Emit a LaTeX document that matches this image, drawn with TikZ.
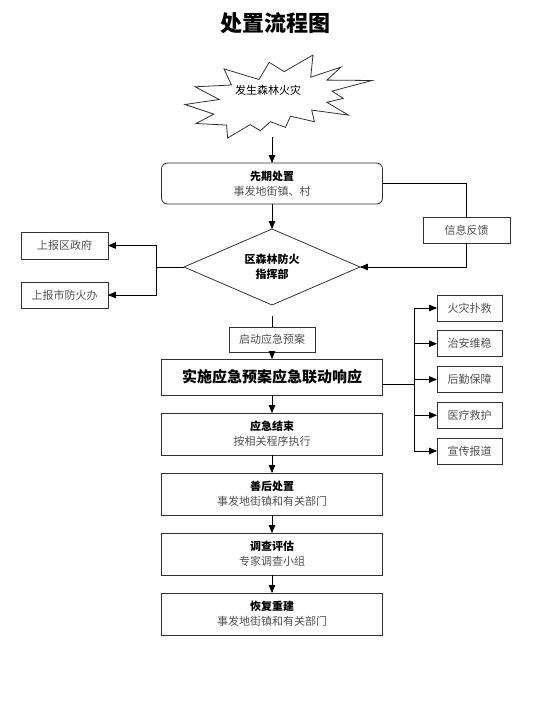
\documentclass[tikz,border=0pt]{standalone}
\usepackage{fontspec}
\setmainfont{Noto Sans CJK SC}
\usetikzlibrary{shapes,arrows,positioning}
\definecolor{linegray}{HTML}{333333}
\definecolor{txtgray}{HTML}{505050}
\newcommand{\boxhead}[1]{\textcolor{black}{\textbf{#1}}}

\begin{document}
\begin{tikzpicture}[%
    x=1pt, y=1pt,               % one unit per pixel of the page
    >=triangle 45,              % small filled tips
    node distance=18pt,         % gap between the stage boxes
    every node/.style={inner sep=0pt, outer sep=0pt},
    ]
% -------------------------------------------------
% Box styles
\tikzset{
  base/.style={draw=linegray, line width=0.8pt, align=center, text=txtgray,
    font=\fontsize{11}{15}\selectfont},
  stage/.style={base, minimum width=221pt, minimum height=42pt},
  side/.style={base, minimum width=87pt, minimum height=26pt},
  task/.style={base, minimum width=65pt, minimum height=26pt},
  cmd/.style={base, diamond, aspect=2.3, minimum width=176pt, minimum height=76pt},
  burst/.style={draw=linegray, line width=0.8pt},
  % Connector line styles
  norm/.style={->, draw=black, line width=0.8pt},
  plain/.style={draw=black, line width=0.8pt}
}
\useasboundingbox (0,0) rectangle (550,-709);
% -------------------------------------------------
% Start by placing the nodes

\node[font=\fontsize{22}{24}\selectfont\bfseries] (title) at (275,-23) {处置流程图};

\node[font=\fontsize{11}{15}\selectfont] (fire) at (268,-90) {发生森林火灾};
% explosion outline round the first node
\draw[burst] (284.2,-71.7) -- (313.0,-55.0) -- (310.7,-77.2) -- (340.9,-67.2)
  -- (326.8,-80.1) -- (372.0,-80.5) -- (332.0,-91.1) -- (343.2,-98.4)
  -- (326.8,-102.3) -- (348.4,-115.1) -- (311.7,-110.1) -- (314.4,-121.7)
  -- (290.4,-116.2) -- (285.5,-127.4) -- (270.5,-121.7) -- (260.3,-130.7)
  -- (250.2,-124.6) -- (227.6,-138.0) -- (226.6,-125.1) -- (196.1,-123.5)
  -- (213.8,-114.1) -- (185.0,-104.5) -- (219.1,-99.5) -- (195.1,-86.8)
  -- (231.5,-85.0) -- (224.0,-68.9) -- (259.0,-79.5) -- (269.2,-62.3) -- cycle;
\coordinate (firetip) at (272,-137);

\node[stage, rounded corners=6pt, minimum height=41pt] (early) at (272,-183.5)
  {\boxhead{先期处置}\\事发地街镇、村};
\node[cmd, below=25pt of early] (hq) {\boxhead{区森林防火}\\\boxhead{指挥部}};
\coordinate[below=11pt of hq] (hqgap);
\node[base, minimum width=86pt, minimum height=25pt, below=22pt of hq] (start) {启动应急预案};
\node[stage, minimum height=36pt, below=7pt of start, text=black,
  font=\fontsize{15}{18}\selectfont\bfseries] (act) {实施应急预案应急联动响应};
\node[stage, below=of act] (over) {\boxhead{应急结束}\\按相关程序执行};
\node[stage, below=of over] (after) {\boxhead{善后处置}\\事发地街镇和有关部门};
\node[stage, below=of after] (probe) {\boxhead{调查评估}\\专家调查小组};
\node[stage, below=of probe] (rebuild) {\boxhead{恢复重建}\\事发地街镇和有关部门};

% reports to the left, feedback to the right
\node[side, left=76pt of hq, yshift=21.5pt, minimum height=27pt] (gov) {上报区政府};
\node[side, left=76pt of hq, yshift=-28pt] (city) {上报市防火办};
\node[side, right=63pt of hq, yshift=37pt] (feedback) {信息反馈};

% linked response tasks
\node[task, right=54.5pt of act, yshift=69pt] (t1) {火灾扑救};
\node[task, below=9.75pt of t1] (t2) {治安维稳};
\node[task, below=9.75pt of t2] (t3) {后勤保障};
\node[task, below=9.75pt of t3] (t4) {医疗救护};
\node[task, below=9.75pt of t4] (t5) {宣传报道};

\draw[norm] (firetip) -- (early);
\draw[norm] (early) -- (hq);
\draw[norm] (hq.west) -- ++(-28pt,0) |- (gov);
\draw[norm] (hq.west) -- ++(-28pt,0) |- (city);
\draw[plain] (early.east) -| (feedback);
\draw[norm] (feedback) |- (hq.east);
\draw[plain] (hqgap) -- (start);
\draw[norm] (start) -- (act);
\draw[norm] (act) -- (over);
\draw[norm] (over) -- (after);
\draw[norm] (after) -- (probe);
\draw[norm] (probe) -- (rebuild);
\draw[norm] ([yshift=-7pt]act.east) -- ++(31.5pt,0) |- (t1);
\draw[norm] ([yshift=-7pt]act.east) -- ++(31.5pt,0) |- (t2);
\draw[norm] ([yshift=-7pt]act.east) -- ++(31.5pt,0) |- (t3);
\draw[norm] ([yshift=-7pt]act.east) -- ++(31.5pt,0) |- (t4);
\draw[norm] ([yshift=-7pt]act.east) -- ++(31.5pt,0) |- (t5);

% -------------------------------------------------
\end{tikzpicture}
\end{document}
